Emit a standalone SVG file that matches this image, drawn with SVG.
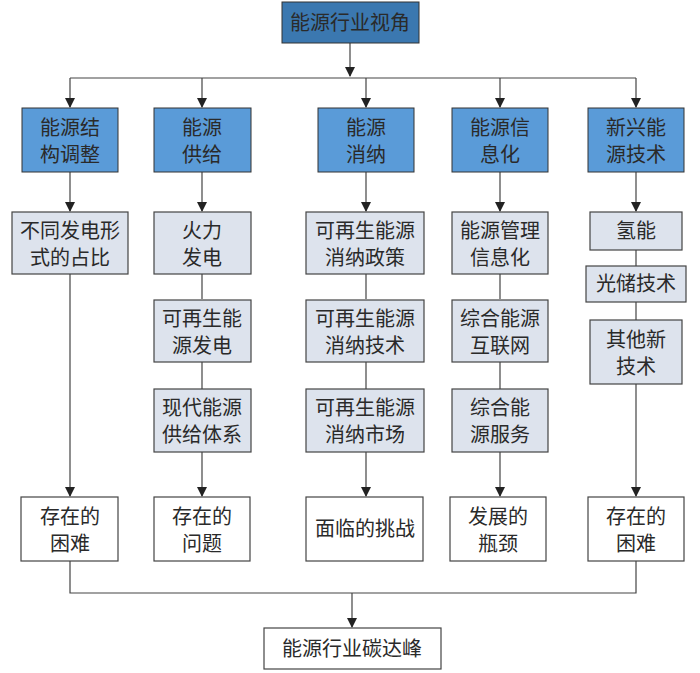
<svg xmlns="http://www.w3.org/2000/svg" width="700" height="673" viewBox="0 0 700 673">
<style>
text{font-family:"Liberation Serif","Noto Sans CJK SC",serif;font-size:20px;fill:#2a2a2a;text-anchor:middle}
.dk{fill:#3b78b0;stroke:#333;stroke-width:1}
.hd{fill:#5a9bd8;stroke:#333;stroke-width:1}
.lt{fill:#dde3ed;stroke:#444;stroke-width:1.2}
.wh{fill:#fff;stroke:#444;stroke-width:1.2}
.c{fill:none;stroke:#444;stroke-width:1.2}
</style>
<defs><marker id="a" markerWidth="10" markerHeight="14" refX="9" refY="5" orient="auto" markerUnits="userSpaceOnUse"><path d="M0,0 L10,5 L0,10 Z" fill="#222"/></marker></defs>
<rect width="700" height="673" fill="#fff"/>
<g id="connectors">
<path class="c" d="M350,43 V76" marker-end="url(#a)"/>
<path class="c" d="M70,78 H636"/>
<path class="c" d="M70,78 V107" marker-end="url(#a)"/>
<path class="c" d="M202,78 V107" marker-end="url(#a)"/>
<path class="c" d="M366,78 V107" marker-end="url(#a)"/>
<path class="c" d="M500,78 V107" marker-end="url(#a)"/>
<path class="c" d="M636,78 V107" marker-end="url(#a)"/>
<path class="c" d="M70,172 V211" marker-end="url(#a)"/>
<path class="c" d="M202,172 V211" marker-end="url(#a)"/>
<path class="c" d="M366,172 V211" marker-end="url(#a)"/>
<path class="c" d="M500,172 V211" marker-end="url(#a)"/>
<path class="c" d="M636,172 V211" marker-end="url(#a)"/>
<path class="c" d="M202,274 V299"/><path class="c" d="M202,362 V389"/>
<path class="c" d="M366,274 V299"/><path class="c" d="M366,362 V389"/>
<path class="c" d="M500,274 V299"/><path class="c" d="M500,362 V389"/>
<path class="c" d="M636,250 V266"/><path class="c" d="M636,302 V320"/>
<path class="c" d="M70,274 V496" marker-end="url(#a)"/>
<path class="c" d="M202,452 V496" marker-end="url(#a)"/>
<path class="c" d="M366,452 V496" marker-end="url(#a)"/>
<path class="c" d="M500,452 V496" marker-end="url(#a)"/>
<path class="c" d="M636,384 V496" marker-end="url(#a)"/>
<path class="c" d="M70,561 V593 H636 V561"/>
<path class="c" d="M352,593 V627" marker-end="url(#a)"/>
</g>
<g id="top"><rect class="dk" x="282" y="2" width="137" height="41"/><text x="350" y="30">能源行业视角</text></g>
<g id="h1"><rect class="hd" x="22" y="108" width="96" height="64"/><text x="70" y="135">能源结</text><text x="70" y="162">构调整</text></g>
<g id="h2"><rect class="hd" x="154" y="108" width="97" height="64"/><text x="202" y="135">能源</text><text x="202" y="162">供给</text></g>
<g id="h3"><rect class="hd" x="318" y="108" width="96" height="64"/><text x="366" y="135">能源</text><text x="366" y="162">消纳</text></g>
<g id="h4"><rect class="hd" x="452" y="108" width="96" height="64"/><text x="500" y="135">能源信</text><text x="500" y="162">息化</text></g>
<g id="h5"><rect class="hd" x="588" y="108" width="96" height="64"/><text x="636" y="135">新兴能</text><text x="636" y="162">源技术</text></g>
<g id="a1"><rect class="lt" x="12" y="212" width="116" height="62"/><text x="70" y="238">不同发电形</text><text x="70" y="265">式的占比</text></g>
<g id="b1"><rect class="lt" x="154" y="212" width="97" height="62"/><text x="202" y="238">火力</text><text x="202" y="265">发电</text></g>
<g id="b2"><rect class="lt" x="154" y="300" width="97" height="62"/><text x="202" y="326">可再生能</text><text x="202" y="353">源发电</text></g>
<g id="b3"><rect class="lt" x="154" y="389" width="97" height="63"/><text x="202" y="415">现代能源</text><text x="202" y="442">供给体系</text></g>
<g id="c1"><rect class="lt" x="306" y="212" width="118" height="62"/><text x="365" y="238">可再生能源</text><text x="365" y="265">消纳政策</text></g>
<g id="c2"><rect class="lt" x="306" y="300" width="118" height="62"/><text x="365" y="326">可再生能源</text><text x="365" y="353">消纳技术</text></g>
<g id="c3"><rect class="lt" x="306" y="389" width="118" height="63"/><text x="365" y="415">可再生能源</text><text x="365" y="442">消纳市场</text></g>
<g id="d1"><rect class="lt" x="452" y="212" width="96" height="62"/><text x="500" y="238">能源管理</text><text x="500" y="265">信息化</text></g>
<g id="d2"><rect class="lt" x="452" y="300" width="96" height="62"/><text x="500" y="326">综合能源</text><text x="500" y="353">互联网</text></g>
<g id="d3"><rect class="lt" x="452" y="389" width="96" height="63"/><text x="500" y="415">综合能</text><text x="500" y="442">源服务</text></g>
<g id="e1"><rect class="lt" x="590" y="212" width="92" height="38"/><text x="636" y="238">氢能</text></g>
<g id="e2"><rect class="lt" x="586" y="266" width="100" height="36"/><text x="636" y="291">光储技术</text></g>
<g id="e3"><rect class="lt" x="590" y="320" width="92" height="64"/><text x="636" y="347">其他新</text><text x="636" y="374">技术</text></g>
<g id="f1"><rect class="wh" x="21" y="497" width="97" height="64"/><text x="70" y="524">存在的</text><text x="70" y="551">困难</text></g>
<g id="f2"><rect class="wh" x="154" y="497" width="96" height="64"/><text x="202" y="524">存在的</text><text x="202" y="551">问题</text></g>
<g id="f3"><rect class="wh" x="306" y="497" width="117" height="64"/><text x="365" y="536">面临的挑战</text></g>
<g id="f4"><rect class="wh" x="450" y="497" width="96" height="64"/><text x="498" y="524">发展的</text><text x="498" y="551">瓶颈</text></g>
<g id="f5"><rect class="wh" x="588" y="497" width="96" height="64"/><text x="636" y="524">存在的</text><text x="636" y="551">困难</text></g>
<g id="bottom"><rect class="wh" x="264" y="628" width="177" height="41"/><text x="352" y="656">能源行业碳达峰</text></g>
</svg>
